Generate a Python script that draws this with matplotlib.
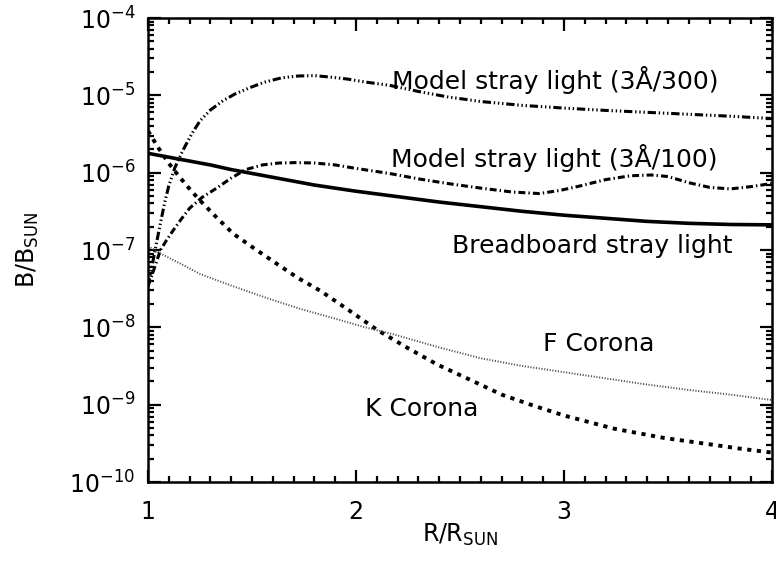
import matplotlib
matplotlib.use('Agg')
import matplotlib.pyplot as plt
import numpy as np
from matplotlib.ticker import LogLocator, FixedLocator, MultipleLocator

plt.rcParams['font.family'] = ['DejaVu Sans']
plt.rcParams['mathtext.fontset'] = 'dejavusans'
plt.rcParams['lines.scale_dashes'] = False

# curves as (R/Rsun, log10 B/Bsun)
r_bread = [1.0, 1.1, 1.2, 1.3, 1.4, 1.5, 1.6, 1.7, 1.8, 1.9, 2.0, 2.2, 2.4, 2.6,
           2.8, 3.0, 3.2, 3.4, 3.6, 3.8, 4.0]
lg_bread = [-5.75, -5.80, -5.85, -5.90, -5.96, -6.01, -6.06, -6.11, -6.16, -6.20,
            -6.24, -6.31, -6.38, -6.44, -6.50, -6.55, -6.59, -6.63, -6.655, -6.67, -6.675]

r_m300 = [1.0, 1.02, 1.04, 1.06, 1.08, 1.10, 1.13, 1.17, 1.21, 1.25, 1.30, 1.36,
          1.42, 1.49, 1.56, 1.64, 1.72, 1.80, 1.88, 1.96, 2.05, 2.16, 2.3, 2.44,
          2.6, 2.8, 3.0, 3.2, 3.4, 3.6, 3.8, 4.0]
lg_m300 = [-7.47, -7.2, -6.92, -6.65, -6.39, -6.17, -5.93, -5.70, -5.50, -5.33,
           -5.19, -5.07, -4.98, -4.90, -4.83, -4.775, -4.75, -4.745, -4.765, -4.79,
           -4.83, -4.87, -4.95, -5.02, -5.08, -5.13, -5.165, -5.195, -5.22, -5.245,
           -5.27, -5.30]

r_m100 = [1.0, 1.03, 1.06, 1.09, 1.12, 1.16, 1.20, 1.26, 1.33, 1.40, 1.47, 1.55,
          1.63, 1.71, 1.80, 1.9, 2.0, 2.16, 2.3, 2.44, 2.6, 2.75, 2.88, 2.98, 3.08,
          3.2, 3.32, 3.42, 3.5, 3.6, 3.7, 3.8, 3.9, 4.0]
lg_m100 = [-7.47, -7.24, -7.0, -6.87, -6.75, -6.60, -6.46, -6.32, -6.20, -6.07,
           -5.96, -5.90, -5.875, -5.87, -5.875, -5.90, -5.945, -6.01, -6.08, -6.14,
           -6.2, -6.25, -6.27, -6.23, -6.17, -6.09, -6.04, -6.03, -6.05, -6.13,
           -6.19, -6.21, -6.18, -6.14]

r_k = [1.0, 1.05, 1.1, 1.15, 1.2, 1.25, 1.33, 1.41, 1.5, 1.62, 1.72, 1.83, 1.95,
       2.1, 2.25, 2.39, 2.55, 2.7, 2.85, 3.0, 3.24, 3.48, 3.72, 3.85, 4.0]
lg_k = [-5.46, -5.68, -5.88, -6.05, -6.21, -6.36, -6.58, -6.79, -6.96, -7.18,
        -7.36, -7.53, -7.75, -8.03, -8.27, -8.48, -8.68, -8.87, -9.01, -9.14,
        -9.31, -9.43, -9.52, -9.57, -9.62]

r_f = [1.0, 1.05, 1.1, 1.18, 1.25, 1.4, 1.57, 1.73, 1.89, 2.03, 2.18, 2.4, 2.6,
       2.8, 3.0, 3.2, 3.4, 3.6, 3.8, 4.0]
lg_f = [-6.95, -7.03, -7.1, -7.21, -7.31, -7.46, -7.62, -7.76, -7.88, -7.99,
        -8.09, -8.26, -8.40, -8.50, -8.58, -8.66, -8.74, -8.81, -8.87, -8.94]

fig = plt.figure(figsize=(7.76, 5.64), dpi=100)
ax = fig.add_axes([148/776, 1-482/564, (772-148)/776, (482-18)/564])


def curve(lg):
    return 10**np.asarray(lg)


ax.plot(r_bread, curve(lg_bread), color='k', lw=2.6, solid_capstyle='butt')
ax.plot(r_m300, curve(lg_m300), color='k', lw=2.2,
        linestyle=(0, (6, 2, 1, 2, 1, 2, 1, 2)))
ax.plot(r_m100, curve(lg_m100), color='k', lw=2.2,
        linestyle=(0, (5, 2.2, 1, 2.2)))
ax.plot(r_k, curve(lg_k), color='k', lw=2.8, linestyle=(0, (3, 4)))
ax.plot(r_f, curve(lg_f), color='0.3', lw=1.4, linestyle=(0, (0.8, 1.2)))

ax.set_yscale('log')
ax.set_xlim(1, 4)
ax.set_ylim(1e-10, 1e-4)

fs = 18
ax.text(2.173, 10**-4.805, 'Model stray light (3Å/300)', fontsize=fs, va='center')
ax.text(2.168, 10**-5.805, 'Model stray light (3Å/100)', fontsize=fs, va='center')
ax.text(2.4615, 10**-6.948, 'Breadboard stray light', fontsize=fs, va='center')
ax.text(2.899, 10**-8.221, 'F Corona', fontsize=fs, va='center')
ax.text(2.043, 10**-9.052, 'K Corona', fontsize=fs, va='center')

ax.xaxis.set_major_locator(FixedLocator([1, 2, 3, 4]))
ax.xaxis.set_minor_locator(MultipleLocator(0.1))
ax.set_xticklabels(['1', '2', '3', '4'])
ax.yaxis.set_major_locator(LogLocator(base=10, numticks=10))
ax.yaxis.set_minor_locator(LogLocator(base=10, subs=np.arange(2, 10), numticks=10))

ax.tick_params(which='both', direction='in', top=True, right=True, width=1.6,
               labelsize=17)
ax.tick_params(axis='x', pad=13)
ax.tick_params(axis='y', pad=9)
ax.tick_params(which='major', length=9)
ax.tick_params(which='minor', length=4.5)
for s in ax.spines.values():
    s.set_linewidth(1.8)

ax.set_xlabel(r'R/R$_{\mathrm{SUN}}$', fontsize=17)
ax.set_ylabel(r'B/B$_{\mathrm{SUN}}$', fontsize=17)
ax.xaxis.set_label_coords(0.5, -0.085)
ax.yaxis.set_label_coords(-0.172, 0.5)

fig.savefig('out.png', dpi=100)
